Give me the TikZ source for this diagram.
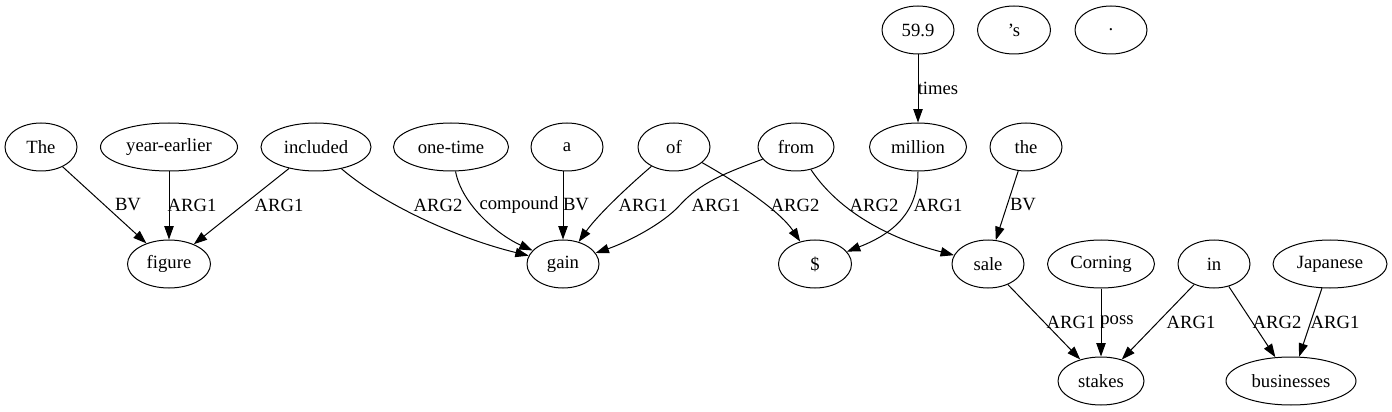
\documentclass[tikz,border=0pt]{standalone}
\usepackage{fontspec}
\setmainfont{Liberation Serif}
\usetikzlibrary{shapes.geometric,arrows.meta}
\begin{document}
\begin{tikzpicture}[x=0.75pt,y=0.75pt,
  word/.style={draw, ellipse, line width=0.75pt, minimum height=36pt, inner sep=0pt, font=\fontsize{14pt}{16pt}\selectfont},
  lbl/.style={inner sep=0pt, font=\fontsize{14pt}{16pt}\selectfont},
  conn/.style={line width=0.75pt, -{Triangle[length=10pt,width=7pt]}}]
\useasboundingbox (0,0) rectangle (1392,411);
% row 1
\node[word, minimum width=54pt]    (n599) at (918,381) {59.9};
\node[word, minimum width=54.75pt] (ns)   at (1014,381) {’s};
\node[word, minimum width=54pt]    (ndot) at (1111,381) {.};
% row 2
\node[word, minimum width=54pt]     (The)     at (41,264)  {The};
\node[word, minimum width=102.75pt] (yearearlier) at (169,264) {year-earlier};
\node[word, minimum width=82.5pt]   (included) at (316,264) {included};
\node[word, minimum width=86.25pt]  (onetime) at (451,264) {one-time};
\node[word, minimum width=54pt]     (a)       at (567,264) {a};
\node[word, minimum width=54pt]     (of)      at (674,264) {of};
\node[word, minimum width=57pt]     (from)    at (796,264) {from};
\node[word, minimum width=72.75pt]  (million) at (918,264) {million};
\node[word, minimum width=54pt]     (the)     at (1026,264) {the};
% row 3
\node[word, minimum width=62.25pt] (figure)  at (169,147) {figure};
\node[word, minimum width=54pt]    (gain)    at (563,147) {gain};
\node[word, minimum width=54.75pt] (dollar)  at (815,147) {\$};
\node[word, minimum width=54pt]    (sale)    at (988,147) {sale};
\node[word, minimum width=80.25pt] (Corning) at (1101,147) {Corning};
\node[word, minimum width=54pt]    (in)      at (1214,147) {in};
\node[word, minimum width=85.5pt]  (Japanese) at (1330,147) {Japanese};
% row 4
\node[word, minimum width=64.5pt] (stakes)     at (1101,30) {stakes};
\node[word, minimum width=97.5pt] (businesses) at (1291,30) {businesses};
% edges
\draw[conn] (The) -- (figure);
\draw[conn] (yearearlier) -- (figure);
\draw[conn] (included) -- (figure);
\draw[conn] (included) .. controls (385,205) and (460,172) .. (gain);
\draw[conn] (onetime) .. controls (462,205) and (500,175) .. (gain);
\draw[conn] (a.south -| gain) -- (gain);
\draw[conn] (of) .. controls (625,222) and (597,195) .. (gain);
\draw[conn] (from) .. controls (725,238) and (700,228) .. (680,206) .. controls (662,186) and (625,168) .. (gain);
\draw[conn] (of) .. controls (735,230) and (780,200) .. (dollar);
\draw[conn] (from) .. controls (835,205) and (880,175) .. (sale);
\draw[conn] (million) .. controls (918,200) and (895,178) .. (dollar);
\draw[conn] (n599) -- (million);
\draw[conn] (the) -- (sale);
\draw[conn] (sale) -- (stakes);
\draw[conn] (Corning) -- (stakes);
\draw[conn] (in) -- (stakes);
\draw[conn] (in) -- (businesses);
\draw[conn] (Japanese) -- (businesses);
% labels
\node[lbl] (l1)  at (128,206) {BV};
\node[lbl] (l2)  at (192,206) {ARG1};
\node[lbl] (l3)  at (279,206) {ARG1};
\node[lbl] (l4)  at (438,206) {ARG2};
\node[lbl] (l5)  at (519,206) {compound};
\node[lbl] (l6)  at (576,206) {BV};
\node[lbl] (l7)  at (643,206) {ARG1};
\node[lbl] (l8)  at (716,206) {ARG1};
\node[lbl] (l9)  at (795,206) {ARG2};
\node[lbl] (l10) at (874,206) {ARG2};
\node[lbl] (l11) at (938,206) {ARG1};
\node[lbl] (l12) at (1023,206) {BV};
\node[lbl] (l13) at (938,323) {times};
\node[lbl] (l14) at (1071,89) {ARG1};
\node[lbl] (l15) at (1117,89) {poss};
\node[lbl] (l16) at (1191,89) {ARG1};
\node[lbl] (l17) at (1277,89) {ARG2};
\node[lbl] (l18) at (1335,89) {ARG1};
\end{tikzpicture}
\end{document}
